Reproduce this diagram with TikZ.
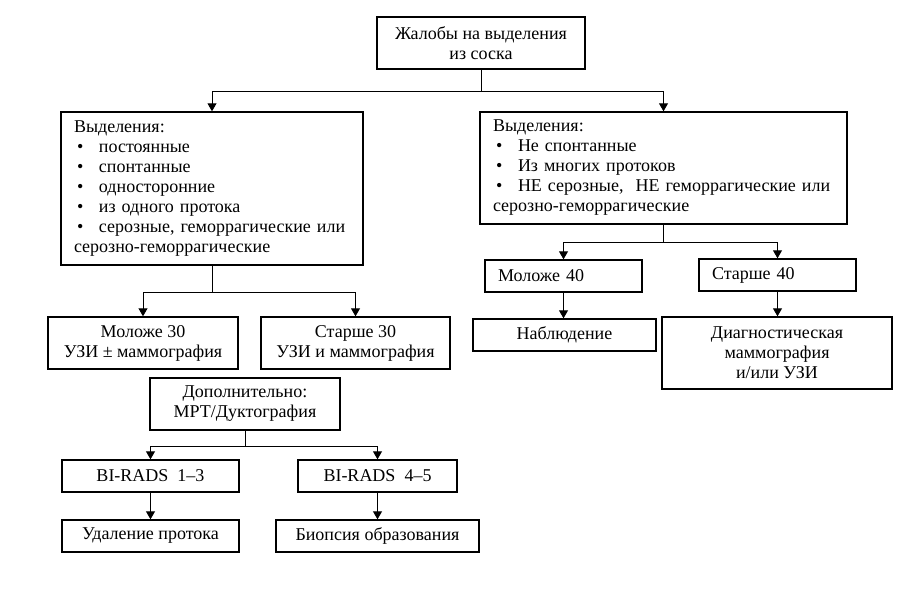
\documentclass[tikz,border=0pt]{standalone}
\usepackage{fontspec}
\setmainfont{Liberation Serif}
\usetikzlibrary{arrows.meta}

\newcommand{\pkt}{\makebox[25pt][l]{\hspace{3pt}•}}

\begin{document}
\begin{tikzpicture}[x=1pt, y=-1pt,
	box/.style={draw, line width=1.4pt, inner sep=0pt, align=center,
		font=\fontsize{18}{20}\selectfont},
	leftbox/.style={box, inner xsep=13pt, align=left},
	arr/.style={line width=0.9pt, -{Triangle[width=9pt,length=8pt]}}]
	\useasboundingbox (0,0) rectangle (920,600);
	% Kopf
	\node[box, minimum width=208, minimum height=52] (zhal) at (481,43)
		{Жалобы на выделения\\из соска};
	% zwei Gruppen
	\node[leftbox, text width=276, minimum height=153] (vyd1) at (212,188.5)
		{Выделения:\\
		\pkt постоянные\\
		\pkt спонтанные\\
		\pkt односторонние\\
		\pkt из одного протока\\
		\pkt серозные,\ геморрагические или\\
		серозно-геморрагические};
	\node[leftbox, text width=341, minimum height=112] (vyd2) at (663.5,168)
		{Выделения:\\
		\pkt Не спонтанные\\
		\pkt Из многих протоков\\
		\pkt НЕ серозные,\ \ НЕ геморрагические или\\
		серозно-геморрагические};
	% linker Zweig
	\node[box, minimum width=190, minimum height=52] (mol30) at (143,343)
		{Моложе 30\\УЗИ ± маммография};
	\node[box, minimum width=189, minimum height=52] (st30) at (355.5,343)
		{Старше 30\\УЗИ и маммография};
	\node[box, minimum width=190, minimum height=52] (dop) at (245,404)
		{Дополнительно:\\МРТ/Дуктография};
	\node[box, minimum width=177, minimum height=32] (bi13) at (150.5,476)
		{BI-RADS\ \ 1--3};
	\node[box, minimum width=159, minimum height=32] (bi45) at (377.5,476)
		{BI-RADS\ \ 4--5};
	\node[box, minimum width=177, minimum height=32] (udal) at (150.5,536)
		{Удаление протока};
	\node[box, minimum width=203, minimum height=32] (biop) at (377.5,536)
		{Биопсия образования};
	% rechter Zweig
	\node[leftbox, text width=131, minimum height=32] (mol40) at (563.5,276)
		{Моложе 40};
	\node[leftbox, text width=131, minimum height=32] (st40) at (777.5,275)
		{Старше 40};
	\node[box, minimum width=183, minimum height=32] (nabl) at (564.5,335)
		{Наблюдение};
	\node[box, minimum width=230, minimum height=72] (diag) at (777,353)
		{Диагностическая\\маммография\\и/или УЗИ};
	% Pfeile
	\draw[arr] (zhal.south) -- ++(0,22) -| (vyd1.north);
	\draw[arr] (zhal.south) -- ++(0,22) -| (vyd2.north);
	\draw[arr] (vyd1.south) -- ++(0,27) -| (mol30.north);
	\draw[arr] (vyd1.south) -- ++(0,27) -| (st30.north);
	\draw[arr] (dop.south) -- ++(0,16) -| (bi13.north);
	\draw[arr] (dop.south) -- ++(0,16) -| (bi45.north);
	\draw[arr] (bi13.south) -- (udal.north);
	\draw[arr] (bi45.south) -- (biop.north);
	\draw[arr] (vyd2.south) -- ++(0,18) -| (mol40.north);
	\draw[arr] (vyd2.south) -- ++(0,18) -| (st40.north);
	\draw[arr] (mol40.south) -- (mol40.south |- nabl.north);
	\draw[arr] (st40.south) -- (st40.south |- diag.north);
\end{tikzpicture}
\end{document}
